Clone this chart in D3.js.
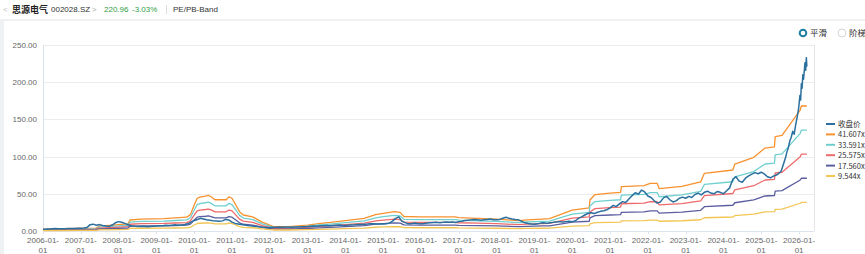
<!DOCTYPE html>
<html>
<head>
<meta charset="utf-8">
<script src="https://cdn.jsdelivr.net/npm/d3@7"></script>
<style>
  body { margin: 0; background: #fff; font-family: "Liberation Sans", Arial, sans-serif; }
  svg { display: block; }
</style>
</head>
<body>
<svg id="chart" width="865" height="254"></svg>
<script>
// ---- data ----
const multiples = [41.607, 33.591, 25.575, 17.560, 9.544];
const bandLabels = ["41.607x", "33.591x", "25.575x", "17.560x", "9.544x"];
const bandColors = ["#f8922f", "#6fcfcf", "#ef6a6a", "#5a5d9f", "#f3c654"];
const closeLabel = "收盘价";
const closeColor = "#2a6f9e";

// EPS (TTM) breakpoints that the bands are built from
const epsDates = [
  "2006-01-01","2006-07-01","2007-01-01","2007-05-26","2007-07-01","2008-01-01","2008-04-01","2008-04-20",
  "2008-08-08","2009-03-15","2009-07-01","2009-10-20","2009-11-25","2010-01-01","2010-01-30","2010-02-25",
  "2010-04-20","2010-05-18","2010-06-13","2010-07-20","2010-11-06","2010-12-02","2011-01-01","2011-03-15",
  "2011-04-20","2011-07-20","2011-10-20","2012-01-01","2012-02-06","2012-07-01","2013-01-01","2013-04-20",
  "2013-08-08","2014-01-01","2014-07-01","2014-10-20","2015-01-01","2015-04-20","2015-06-13","2015-07-20",
  "2016-01-01","2016-07-01","2016-11-25","2017-01-01","2017-07-01","2018-01-01","2018-08-08","2018-10-20",
  "2019-03-15","2019-05-26","2020-01-01","2020-06-13","2020-06-20","2020-08-08","2021-01-01","2021-04-12",
  "2021-04-20","2021-11-25","2022-01-23","2022-04-01","2022-04-20","2022-11-25","2023-05-26","2023-07-01",
  "2024-04-01","2024-04-20","2024-10-20","2025-02-06","2025-05-08","2025-05-15","2025-07-20","2026-01-12",
  "2026-01-23","2026-03-17"
];
const epsValues = [
  0.060, 0.072, 0.087, 0.096, 0.156, 0.204, 0.228, 0.356,
  0.385, 0.397, 0.421, 0.445, 0.529, 0.841, 1.058, 1.094,
  1.130, 1.154, 1.106, 1.009, 1.009, 1.101, 1.058, 0.625,
  0.517, 0.457, 0.288, 0.192, 0.144, 0.139, 0.192, 0.240,
  0.276, 0.336, 0.409, 0.529, 0.572, 0.625, 0.601, 0.469,
  0.457, 0.457, 0.457, 0.433, 0.409, 0.385, 0.336, 0.361,
  0.385, 0.397, 0.673, 0.745, 1.002, 1.178, 1.226, 1.250,
  1.432, 1.466, 1.538, 1.538, 1.370, 1.442, 1.586, 1.863,
  1.971, 2.163, 2.379, 2.680, 2.716, 3.048, 3.088, 3.908,
  4.038, 4.038
];

// monthly close, 2006-01 .. 2025-06
const closeMonthStart = "2006-01-01";
const closeMonthly = [
  2.5, 2.6, 2.8, 3.0, 3.2, 3.0, 3.1, 3.0, 3.2, 3.3, 3.4, 3.6,
  3.7, 4.0, 4.6, 8.5, 9.2, 7.8, 8.6, 7.4, 6.6, 6.2, 8.0, 11.0,
  12.6, 11.8, 10.2, 8.4, 7.2, 6.6, 6.2, 6.0, 6.4, 5.8, 6.2, 6.5,
  6.8, 7.1, 7.0, 7.6, 7.4, 7.9, 8.3, 7.9, 8.2, 8.7, 9.6, 12.0,
  14.2, 15.4, 17.0, 16.2, 15.0, 14.6, 13.8, 13.4, 13.0, 13.6, 15.6, 14.8,
  12.0, 10.2, 9.4, 8.6, 8.0, 7.4, 7.0, 6.4, 6.0, 5.4, 5.0, 4.7,
  4.7, 4.9, 5.1, 5.3, 5.0, 5.3, 5.4, 5.1, 5.5, 5.3, 5.6, 5.8,
  6.0, 6.3, 6.6, 6.3, 6.9, 7.0, 7.3, 7.0, 7.5, 7.8, 8.1, 7.6,
  7.5, 7.9, 8.1, 8.3, 8.6, 8.9, 9.1, 9.3, 9.6, 9.9, 9.5, 9.3,
  9.4, 9.7, 10.6, 13.2, 17.0, 19.0, 13.0, 11.2, 9.6, 9.9, 10.6, 10.1,
  9.8, 10.1, 10.6, 11.0, 11.3, 11.6, 11.0, 11.6, 12.1, 11.8, 12.1, 11.5,
  12.6, 13.1, 14.0, 14.6, 15.0, 15.6, 15.0, 14.5, 15.1, 15.6, 16.0, 15.1,
  15.0, 15.6, 17.2, 18.4, 17.0, 16.0, 15.4, 15.0, 13.0, 11.0, 10.1, 9.5,
  9.0, 9.6, 10.6, 11.1, 10.4, 11.0, 11.6, 12.1, 12.6, 12.0, 12.6, 13.0,
  12.6, 13.8, 17.0, 19.0, 21.5, 23.5, 24.6, 23.4, 25.2, 26.4, 27.2, 28.6,
  31.0, 34.5, 32.8, 36.5, 39.5, 38.2, 43.0, 47.5, 51.5, 49.5, 55.0, 52.5,
  47.0, 45.0, 41.0, 37.5, 39.0, 44.5, 46.5, 42.0, 39.0, 40.5, 44.0, 45.5,
  44.0, 46.5, 45.0, 49.0, 51.0, 48.5, 52.0, 53.5, 51.0, 50.0, 53.0, 52.0,
  50.0, 54.0, 58.0, 69.5, 73.0, 67.0, 65.5, 71.0, 74.0, 76.5, 78.5, 77.0,
  79.0, 76.5, 73.0, 71.5, 74.0, 75.5
];
// recent run-up, read at finer dates
const closeTailDates = [
  "2025-07-10","2025-07-25","2025-08-08","2025-08-22","2025-09-05","2025-09-19","2025-10-03","2025-10-17",
  "2025-10-31","2025-11-14","2025-11-28","2025-12-12","2025-12-26","2026-01-09","2026-01-16","2026-01-23",
  "2026-01-30","2026-02-06","2026-02-13","2026-02-27","2026-03-06","2026-03-12","2026-03-17"
];
const closeTailValues = [
  80, 86, 92, 98, 106, 112, 121, 126,
  134, 130, 142, 152, 163, 182, 176, 198,
  192, 210, 204, 226, 216, 233, 220.96
];

const yTicks = [0, 50, 100, 150, 200, 250];
const xTickYears = d3.range(2006, 2027);

// ---- build series ----
const parse = d3.timeParse("%Y-%m-%d");
const eps = epsDates.map((d, i) => ({ date: parse(d), v: epsValues[i] }));
const m0 = parse(closeMonthStart);
const close = closeMonthly.map((v, i) => ({ date: d3.timeMonth.offset(m0, i), v }))
  .concat(closeTailDates.map((d, i) => ({ date: parse(d), v: closeTailValues[i] })));

// ---- layout ----
const svg = d3.select("#chart");
const W = 865, H = 254;
const pLeft = 43, pRight = 814, pTop = 45, pBottom = 231;

const x = d3.scaleTime().domain([parse("2006-01-01"), parse("2026-05-25")]).range([pLeft, pRight]);
const y = d3.scaleLinear().domain([0, 250]).range([pBottom, pTop]);

// page frame
svg.append("rect").attr("x", 0).attr("y", 0).attr("width", W).attr("height", H).attr("fill", "#f0f1f3");
svg.append("rect").attr("x", 0).attr("y", 0).attr("width", W).attr("height", 19).attr("fill", "#fff");
svg.append("rect").attr("x", 4).attr("y", 21).attr("width", W - 4).attr("height", H - 21).attr("fill", "#fff");

// header
const head = svg.append("g").attr("font-size", 8).attr("fill", "#333");
head.append("text").attr("x", 3).attr("y", 12).attr("fill", "#bbb").text("<");
head.append("text").attr("x", 12).attr("y", 12.5).attr("font-size", 9).attr("font-weight", "bold")
  .attr("font-family", "'Noto Sans CJK SC', sans-serif").attr("fill", "#222").text("思源电气");
head.append("text").attr("x", 51).attr("y", 12).text("002028.SZ");
head.append("text").attr("x", 92).attr("y", 12).attr("fill", "#aaa").text(">");
head.append("text").attr("x", 104).attr("y", 12).attr("fill", "#2f9e44").text("220.96");
head.append("text").attr("x", 132).attr("y", 12).attr("fill", "#2f9e44").text("-3.03%");
svg.append("line").attr("x1", 166.5).attr("x2", 166.5).attr("y1", 5).attr("y2", 14).attr("stroke", "#ddd");
head.append("text").attr("x", 173).attr("y", 12).text("PE/PB-Band");

// smooth / step toggle
svg.append("circle").attr("cx", 803).attr("cy", 33).attr("r", 3.3)
  .attr("fill", "#fff").attr("stroke", "#1f7fa3").attr("stroke-width", 2);
svg.append("text").attr("x", 810).attr("y", 36).attr("font-size", 8.5).attr("fill", "#333")
  .attr("font-family", "'Noto Sans CJK SC', sans-serif").text("平滑");
svg.append("circle").attr("cx", 842).attr("cy", 33).attr("r", 4)
  .attr("fill", "#fff").attr("stroke", "#ccc").attr("stroke-width", 0.8);
svg.append("text").attr("x", 849).attr("y", 36).attr("font-size", 8.5).attr("fill", "#333")
  .attr("font-family", "'Noto Sans CJK SC', sans-serif").text("阶梯");

// grid
svg.append("g").selectAll("line").data(yTicks).join("line")
  .attr("x1", pLeft).attr("x2", pRight)
  .attr("y1", d => Math.round(y(d)) + 0.5).attr("y2", d => Math.round(y(d)) + 0.5)
  .attr("stroke", "#ececec");
svg.append("line").attr("x1", pRight + 0.5).attr("x2", pRight + 0.5).attr("y1", pTop).attr("y2", pBottom)
  .attr("stroke", "#e6e6e6");

// y axis labels
svg.append("g").selectAll("text").data(yTicks).join("text")
  .attr("x", 37).attr("y", d => y(d) + 3)
  .attr("text-anchor", "end").attr("font-size", 8).attr("fill", "#666")
  .text(d => d3.format(".2f")(d));

// axes lines
svg.append("line").attr("x1", pLeft + 0.5).attr("x2", pLeft + 0.5).attr("y1", pTop).attr("y2", pBottom)
  .attr("stroke", "#dde3ee");
svg.append("line").attr("x1", pLeft).attr("x2", pRight).attr("y1", pBottom + 0.5).attr("y2", pBottom + 0.5)
  .attr("stroke", "#dde3ee");

// x ticks and labels
const xg = svg.append("g");
xTickYears.forEach(yr => {
  const px = x(new Date(yr, 0, 1));
  xg.append("line").attr("x1", Math.round(px) + 0.5).attr("x2", Math.round(px) + 0.5)
    .attr("y1", pBottom).attr("y2", pBottom + 3).attr("stroke", "#dde3ee");
  xg.append("text").attr("x", px).attr("y", 243).attr("text-anchor", "middle")
    .attr("font-size", 8).attr("fill", "#666").text(yr + "-01-");
  xg.append("text").attr("x", px).attr("y", 253).attr("text-anchor", "middle")
    .attr("font-size", 8).attr("fill", "#666").text("01");
});

// bands
const line = d3.line().x(d => x(d.date)).y(d => y(d.v));
multiples.forEach((m, i) => {
  svg.append("path")
    .datum(eps.map(p => ({ date: p.date, v: p.v * m })))
    .attr("fill", "none").attr("stroke", bandColors[i]).attr("stroke-width", 1.3)
    .attr("stroke-linejoin", "round")
    .attr("d", line);
});

// close
svg.append("path").datum(close)
  .attr("fill", "none").attr("stroke", closeColor).attr("stroke-width", 1.5)
  .attr("stroke-linejoin", "round")
  .attr("d", line);

// legend
const legItems = [{ label: closeLabel, color: closeColor }]
  .concat(bandLabels.map((l, i) => ({ label: l, color: bandColors[i] })));
const leg = svg.append("g").selectAll("g").data(legItems).join("g")
  .attr("transform", (d, i) => `translate(826,${124 + i * 10.4})`);
leg.append("line").attr("x1", 0).attr("x2", 9).attr("y1", 0).attr("y2", 0)
  .attr("stroke", d => d.color).attr("stroke-width", 2);
leg.append("text").attr("x", 12).attr("y", 3).attr("font-size", 7.5).attr("fill", "#333")
  .attr("font-family", "'Noto Sans CJK SC', 'Liberation Sans', sans-serif")
  .text(d => d.label);
</script>
</body>
</html>
